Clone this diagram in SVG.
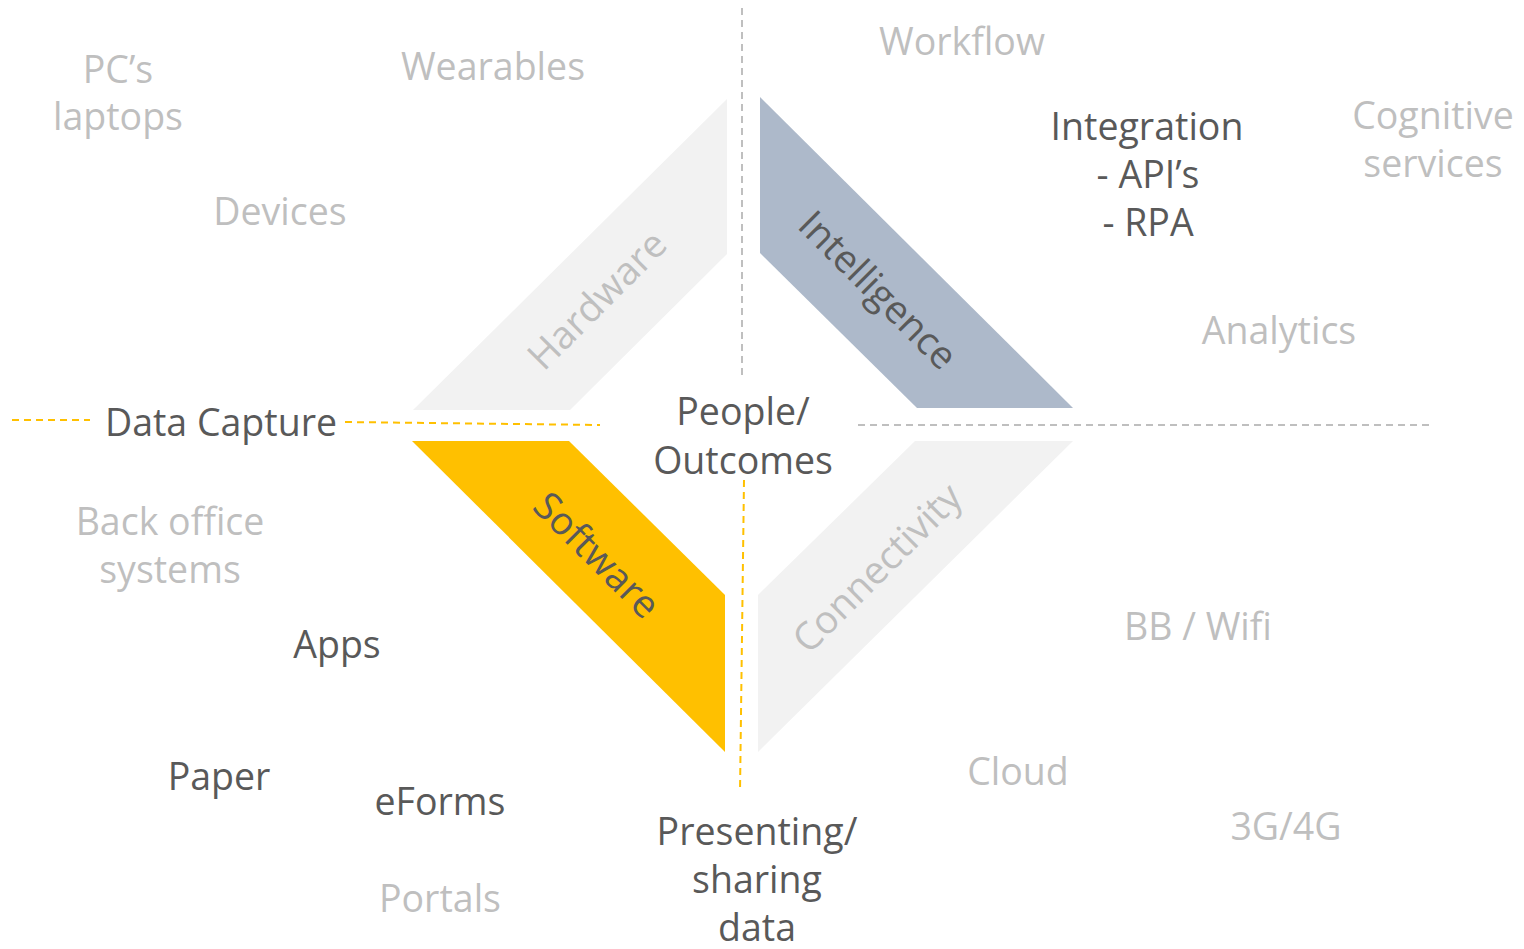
<svg xmlns="http://www.w3.org/2000/svg" width="1524" height="949" viewBox="0 0 1524 949">
<style>
text{font-family:"Open Sans","Noto Sans","Liberation Sans",sans-serif;font-size:37.5px;text-anchor:middle}
.d{fill:#595959}
.l{fill:#bfbfbf}
.r{font-size:38.5px}
.gd{stroke:#bfbfbf;stroke-width:2;stroke-dasharray:7 5;fill:none}
.yd{stroke:#ffc000;stroke-width:2;stroke-dasharray:7 5;fill:none}
</style>
<rect width="1524" height="949" fill="#fff"/>
<g id="connectors">
<line class="gd" x1="742" y1="8" x2="742" y2="377"/>
<line class="gd" x1="858" y1="425" x2="1432" y2="425"/>
<line class="yd" x1="12" y1="420" x2="90" y2="420"/>
<line class="yd" x1="345" y1="422" x2="600" y2="425"/>
<line class="yd" x1="744" y1="480" x2="740" y2="792"/>
</g>
<g id="hardware">
<polygon points="727,99 727,254 570,410 413,410" fill="#f2f2f2"/>
<text class="l r" transform="translate(597,300) rotate(-45)" dy="0.35em">Hardware</text>
</g>
<g id="intelligence">
<polygon points="760,97 1073,408 917,408 760,253" fill="#adb9ca"/>
<text class="d r" transform="translate(878,290) rotate(45)" dy="0.35em">Intelligence</text>
</g>
<g id="software">
<polygon points="412,441 569,441 725,595 725,752" fill="#ffc000"/>
<text class="d r" transform="translate(597,555) rotate(45)" dy="0.35em">Software</text>
</g>
<g id="connectivity">
<polygon points="758,595 915,441 1073,441 758,752" fill="#f2f2f2"/>
<text class="l r" transform="translate(877,568) rotate(-45)" dy="0.35em">Connectivity</text>
</g>
<g id="people"><text class="d" x="743" y="425">People/</text><text class="d" x="743" y="474">Outcomes</text></g>
<g id="datacapture"><text class="d" x="221" y="436">Data Capture</text></g>
<g id="presenting"><text class="d" x="757" y="845">Presenting/</text><text class="d" x="757" y="893">sharing</text><text class="d" x="757" y="941">data</text></g>
<g id="pcs"><text class="l" x="118" y="83">PC’s</text><text class="l" x="118" y="130">laptops</text></g>
<g id="wearables"><text class="l" x="493" y="80">Wearables</text></g>
<g id="devices"><text class="l" x="280" y="225">Devices</text></g>
<g id="workflow"><text class="l" x="962" y="55">Workflow</text></g>
<g id="integration"><text class="d" x="1147" y="140">Integration</text><text class="d" x="1148" y="188">- API’s</text><text class="d" x="1148" y="236">- RPA</text></g>
<g id="cognitive"><text class="l" x="1433" y="129">Cognitive</text><text class="l" x="1433" y="177">services</text></g>
<g id="analytics"><text class="l" x="1279" y="344">Analytics</text></g>
<g id="backoffice"><text class="l" x="170" y="535">Back office</text><text class="l" x="170" y="583">systems</text></g>
<g id="apps"><text class="d" x="337" y="658">Apps</text></g>
<g id="paper"><text class="d" x="219" y="790">Paper</text></g>
<g id="eforms"><text class="d" x="440" y="815">eForms</text></g>
<g id="portals"><text class="l" x="440" y="912">Portals</text></g>
<g id="bbwifi"><text class="l" x="1198" y="640">BB / Wifi</text></g>
<g id="cloud"><text class="l" x="1018" y="785">Cloud</text></g>
<g id="g34"><text class="l" x="1286" y="840">3G/4G</text></g>
</svg>
